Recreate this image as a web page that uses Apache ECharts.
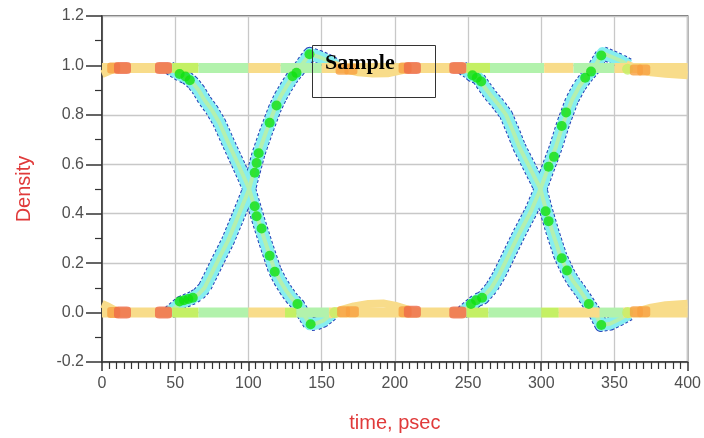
<!DOCTYPE html>
<html><head><meta charset="utf-8">
<script src="https://cdn.jsdelivr.net/npm/echarts@6/dist/echarts.min.js"></script>
<style>html,body{margin:0;padding:0;background:#fff}#c{width:704px;height:438px}</style>
</head><body><div id="c"></div>
<script>
// ---- data (time in psec, density level 0..1) ----
const xRange = [0, 400];
const yRange = [-0.2, 1.2];

// rising / falling transition traces (center line), period 1 and 2
const rise1 = [[46,0.0],[50,0.02],[54,0.04],[58,0.05],[62,0.06],[66,0.075],[70,0.1],[75,0.16],[80,0.22],[86,0.29],[93,0.39],[100.5,0.5],[107,0.645],[112,0.73],[118,0.825],[122,0.875],[126,0.915],[130,0.952],[134,0.98],[138,1.015],[142,1.047],[148,1.035],[154,1.02],[160,1.0]];
const fall1 = [[46,0.99],[50,0.975],[54,0.96],[58,0.95],[62,0.93],[66,0.9],[70,0.86],[75,0.82],[80,0.77],[86,0.69],[93,0.6],[100.5,0.5],[107,0.37],[111,0.295],[118,0.17],[122,0.125],[126,0.087],[130,0.055],[134,0.03],[138,-0.01],[142,-0.047],[146,-0.045],[151,-0.033],[157,-0.005]];
const rise2 = [[246,0.0],[250,0.02],[253,0.035],[256,0.05],[260,0.06],[266,0.1],[271,0.15],[276,0.21],[285,0.32],[293,0.41],[299.5,0.5],[305,0.59],[310,0.67],[315,0.765],[321,0.86],[326,0.915],[331,0.955],[336,0.99],[342,1.05],[348,1.035],[354,1.02],[360,1.0]];
const fall2 = [[246,0.99],[250,0.975],[253,0.96],[257,0.95],[261,0.915],[266,0.875],[271,0.84],[276,0.8],[281,0.73],[285,0.67],[291,0.6],[299.5,0.5],[303,0.42],[308,0.32],[313,0.23],[318,0.165],[322,0.125],[327,0.085],[332,0.04],[337,-0.005],[341,-0.05],[347,-0.045],[354,-0.025],[360,-0.005]];

// settling traces after overshoot / undershoot
const settleTop1 = [[158,1.005],[166,0.985],[175,0.972],[185,0.967],[195,0.968],[203,0.978],[212,0.99]];
const settleBottom1 = [[155,-0.01],[163,0.01],[172,0.025],[182,0.035],[192,0.037],[200,0.028],[210,0.01],[218,0.0]];
const settleTop2 = [[358,1.005],[366,0.985],[375,0.972],[385,0.966],[400,0.96]];
const settleBottom2 = [[358,-0.008],[366,0.005],[375,0.02],[385,0.03],[400,0.036]];
const settleTop0 = [[0,0.965],[4,0.975],[10,0.99]];
const settleBottom0 = [[0,0.035],[4,0.025],[10,0.005]];

// level bands: [start time, density level]
const topBandY = 0.99;
const bottomBandY = 0.0;
const topBandLevels = [[0,3],[48,2],[66,1],[100,3],[122,1],[150,3],[249,2],[265,1],[302,3],[322,1],[350,3]];
const bottomBandLevels = [[0,3],[48,2],[66,1],[100,3],[125,2],[133,1],[155,3],[249,2],[264,1],[300,2],[312,3],[340,1],[356,3]];

// high-density spots: [time, level, density level]
const hotSpots = [
  [8,0.99,4],[14,0.99,5],[42,0.99,5],[164,0.985,4],[170,0.985,4],[207,0.99,4],[212,0.99,5],[243,0.99,5],[359,0.985,2],[365,0.982,4],[370,0.982,4],
  [8,0.0,4],[14,0.0,5],[42,0.0,5],[159,0.0,2],[165,0.003,4],[171,0.003,4],[207,0.003,4],[212,0.003,5],[243,0.0,5],[359,0.0,2],[365,0.003,4],[370,0.003,4]
];

// bright-green marker dots on the traces
const traceDots = [
  [53,0.045],[56,0.05],[59,0.055],[62,0.06],
  [53,0.965],[57,0.955],[60,0.94],
  [104.3,0.566],[105.6,0.605],[107,0.645],[114.5,0.768],[119.2,0.838],[130.1,0.956],[132.8,0.97],[141.7,1.045],
  [104.3,0.43],[105.6,0.39],[109,0.34],[114.5,0.23],[118,0.165],[133.5,0.035],[142.5,-0.047],
  [252,0.035],[255.5,0.05],[259.6,0.06],
  [253,0.96],[256,0.95],[259,0.935],
  [305,0.59],[308.7,0.63],[314,0.755],[317,0.81],[330,0.95],[334,0.975],[341,1.04],
  [303,0.41],[305,0.37],[314,0.22],[317.6,0.17],[332.5,0.035],[341,-0.05]
];

// ---- styles ----
const levelColors = {1:'#b2f2ac', 2:'#c4f064', 3:'#f8dc8a', 4:'#f8a040', 5:'#ee6a48'};
const series = [];
function line(data, color, width, type, z) {
  series.push({type:'line', data, symbol:'none', silent:true, animation:false, z,
    lineStyle:{color, width, type: type || 'solid', cap:'butt', join:'round'}});
}
// transition traces
[rise1, fall1, rise2, fall2].forEach(tr => {
  line(tr, '#2440b8', 14, [3,2], 2);
  line(tr, '#86eef0', 12, 'solid', 3);
  line(tr, '#b4f0ae', 4, 'solid', 4);
});
// settling traces
[settleTop1, settleBottom1, settleTop2, settleBottom2, settleTop0, settleBottom0].forEach(tr => {
  line(tr, levelColors[3], 8, 'solid', 5);
});
// bands
function band(levels, y) {
  levels.forEach((seg, i) => {
    const x0 = seg[0], x1 = i + 1 < levels.length ? levels[i+1][0] : xRange[1];
    line([[x0, y],[x1, y]], levelColors[seg[1]], 10, 'solid', 6);
  });
}
band(topBandLevels, topBandY);
band(bottomBandLevels, bottomBandY);
// hot spots
series.push({type:'scatter', data: hotSpots, silent:true, animation:false, z:7,
  symbol: v => v[2] === 2 ? 'circle' : 'roundRect',
  symbolSize: v => v[2] === 5 ? [17,12] : (v[2] === 4 ? [13,11] : [11,11]),
  itemStyle:{color: p => levelColors[p.value[2]]}});
series.push({type:'scatter', data: traceDots, silent:true, animation:false, z:8,
  symbol:'circle', symbolSize:10, itemStyle:{color:'#10e010'}});

const tickFont = {fontFamily:'Liberation Sans, Arial, sans-serif', fontSize:16, color:'#505050'};
const chart = echarts.init(document.getElementById('c'), null, {renderer:'canvas'});
chart.setOption({
  animation:false,
  backgroundColor:'#ffffff',
  grid:{left:102, right:15, top:16, bottom:76, show:true, borderColor:'#444', borderWidth:1.5},
  xAxis:{type:'value', min:xRange[0], max:xRange[1], interval:50,
    name:'time, psec', nameLocation:'middle', nameGap:51,
    nameTextStyle:{fontFamily:'Liberation Sans, Arial, sans-serif', fontSize:20, color:'#e03a3a'},
    axisLine:{show:true, onZero:false, lineStyle:{color:'#333', width:1.5}},
    axisTick:{show:true, length:9, lineStyle:{color:'#333', width:1.5}},
    minorTick:{show:true, splitNumber:10, length:7, lineStyle:{color:'#333', width:1.2}},
    axisLabel:Object.assign({margin:14}, tickFont),
    splitLine:{show:true, lineStyle:{color:'#c8c8c8', width:1.3}}},
  yAxis:{type:'value', min:yRange[0], max:yRange[1], interval:0.2,
    name:'Density', nameLocation:'middle', nameGap:68, nameRotate:90,
    nameTextStyle:{fontFamily:'Liberation Sans, Arial, sans-serif', fontSize:20, color:'#e03a3a'},
    axisLine:{show:true, onZero:false, lineStyle:{color:'#333', width:1.5}},
    axisTick:{show:true, length:16, lineStyle:{color:'#333', width:1.5}},
    minorTick:{show:true, splitNumber:2, length:7, lineStyle:{color:'#333', width:1.2}},
    axisLabel:Object.assign({margin:18, formatter: v => (Math.abs(v) < 1e-9 ? 0 : v).toFixed(1)}, tickFont),
    splitLine:{show:true, lineStyle:{color:'#c8c8c8', width:1.3}}},
  graphic:[
    {type:'rect', left:310, top:43, shape:{width:123, height:52}, style:{fill:'none', stroke:'#333', lineWidth:1}, z:100},
    {type:'text', left:325, top:52, style:{text:'Sample', font:'bold 22px "Liberation Serif", "Times New Roman", serif', fill:'#000'}, z:101}
  ],
  series
});
</script></body></html>
